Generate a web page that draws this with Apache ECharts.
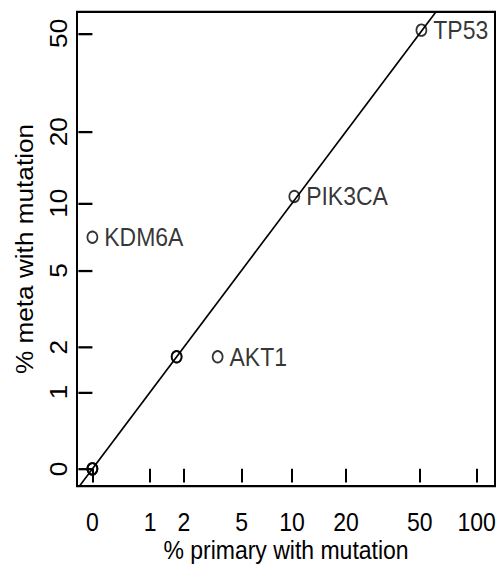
<!DOCTYPE html>
<html>
<head>
<meta charset="utf-8">
<script src="https://cdn.jsdelivr.net/npm/echarts@6/dist/echarts.min.js"></script>
<style>
  html, body { margin: 0; padding: 0; background: #fff; overflow: hidden; }
  #wrap { width: 497px; height: 566px; overflow: hidden; }
  /* the plot is laid out square and stretched to the page height */
  #chart { width: 497px; height: 497px; transform: scaleY(1.1388); transform-origin: 0 0; }
</style>
</head>
<body>
<div id="wrap"><div id="chart"></div></div>
<script>
// Labelled genes: % of primary and % of metastatic samples carrying a mutation
const genes = ['TP53', 'PIK3CA', 'KDM6A', 'AKT1'];
const primaryPct = [51, 10.3, 0, 3.5];
const metaPct = [51.5, 10.7, 7.1, 1.75];

// Unlabelled genes (overlapping points)
const otherPrimaryPct = [1.75, 1.75, 0, 0, 0];
const otherMetaPct = [1.75, 1.75, 0, 0, 0];

// Tick marks on both axes, in percent
const xTicks = [0, 1, 2, 5, 10, 20, 50, 100];
const yTicks = [0, 1, 2, 5, 10, 20, 50];

// Axes use log(1 + %) so that zero can be shown
const tf = v => Math.log1p(v);
const xRange = [-0.185, 4.835];
const yRange = [-0.155, 4.125];

const FONT = '"Liberation Sans", Arial, Helvetica, sans-serif';
const labelFor = (v, ticks) => {
  let best = ticks[0];
  ticks.forEach(t => { if (Math.abs(tf(t) - v) < Math.abs(tf(best) - v)) best = t; });
  return String(best);
};

const labelled = genes.map((g, i) => ({ value: [tf(primaryPct[i]), tf(metaPct[i])], name: g }));
const others = otherPrimaryPct.map((p, i) => [tf(p), tf(otherMetaPct[i])]);
// identity line y = x across the whole axis span
const identity = [[xRange[0], xRange[0]], [xRange[1], xRange[1]]];

const pointStyle = { color: 'rgba(0,0,0,0)', borderColor: '#000', borderWidth: 1.7 };

const chart = echarts.init(document.getElementById('chart'), null, { renderer: 'svg' });
chart.setOption({
  animation: false,
  backgroundColor: '#fff',
  textStyle: { fontFamily: FONT, color: '#000' },
  grid: {
    left: 77, right: 2, top: 10.5, bottom: 70.2,
    outerBoundsMode: 'none', containLabel: false,
    show: true, borderColor: '#000', borderWidth: 2, backgroundColor: 'transparent'
  },
  xAxis: {
    type: 'value', min: xRange[0], max: xRange[1],
    splitLine: { show: false },
    axisLine: { show: false },
    axisTick: { show: true, customValues: xTicks.map(tf), length: 12, lineStyle: { color: '#000', width: 2 } },
    axisLabel: {
      customValues: xTicks.map(tf), formatter: v => labelFor(v, xTicks),
      fontSize: 23, color: '#000', fontFamily: FONT, margin: 20
    },
    name: '% primary with mutation', nameLocation: 'middle', nameGap: 45,
    nameMoveOverlap: false,
    nameTextStyle: { fontSize: 23, color: '#000', fontFamily: FONT, lineHeight: 23 }
  },
  yAxis: {
    type: 'value', min: yRange[0], max: yRange[1],
    splitLine: { show: false },
    axisLine: { show: false },
    axisTick: { show: true, customValues: yTicks.map(tf), length: 14, lineStyle: { color: '#000', width: 2 } },
    axisLabel: {
      customValues: yTicks.map(tf), formatter: v => labelFor(v, yTicks),
      rotate: 90, fontSize: 23, color: '#000', fontFamily: FONT, margin: 6
    },
    name: '% meta with mutation', nameLocation: 'middle', nameGap: 40,
    nameMoveOverlap: false,
    nameTextStyle: { fontSize: 23, color: '#000', fontFamily: FONT }
  },
  series: [
    {
      type: 'line', data: identity, showSymbol: false, clip: true, silent: true,
      lineStyle: { color: '#000', width: 1.6 }, z: 1
    },
    {
      type: 'scatter', data: others, symbol: 'circle', symbolSize: 10,
      itemStyle: pointStyle, silent: true, z: 2
    },
    {
      type: 'scatter', data: labelled, symbol: 'circle', symbolSize: 10,
      itemStyle: pointStyle, silent: true, z: 3,
      label: {
        show: true, position: 'right', distance: 6, formatter: p => p.name,
        fontSize: 23, color: '#000', fontFamily: FONT
      }
    }
  ]
});
</script>
</body>
</html>
